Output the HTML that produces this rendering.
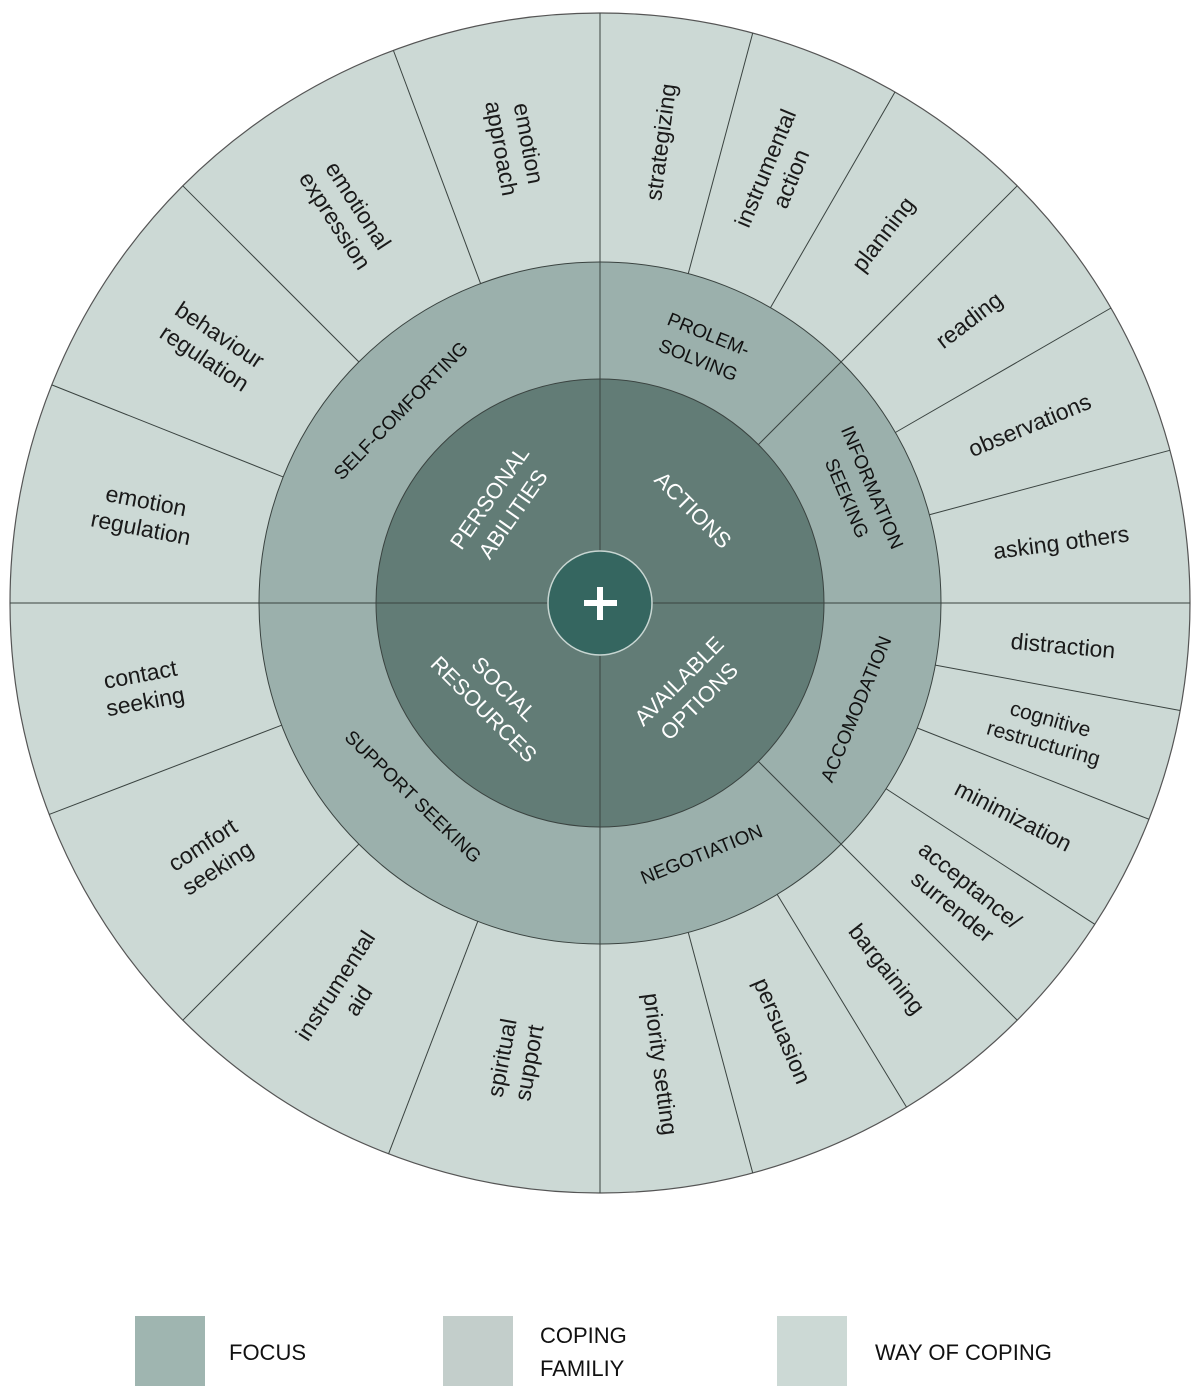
<!DOCTYPE html>
<html><head><meta charset="utf-8"><style>
body{margin:0;background:#fff;width:1200px;height:1397px;overflow:hidden}
svg{display:block}
.o{font-family:"Liberation Sans",sans-serif;font-size:23px;fill:#1a1a1a}
.m{font-family:"Liberation Sans",sans-serif;font-size:19px;fill:#111}
.i{font-family:"Liberation Sans",sans-serif;font-size:22px;fill:#fff}
.l{font-family:"Liberation Sans",sans-serif;font-size:22px;fill:#111}
</style></head><body>
<svg width="1200" height="1397" viewBox="0 0 1200 1397" xmlns="http://www.w3.org/2000/svg">
<circle cx="600" cy="603" r="590" fill="#ccd9d5" stroke="#555" stroke-width="1.2"/>
<g transform="translate(600,603)" stroke="#3a4340" stroke-width="1">
<line x1="0" y1="-341" x2="0" y2="-590" transform="rotate(15)"/>
<line x1="0" y1="-341" x2="0" y2="-590" transform="rotate(30)"/>
<line x1="0" y1="-341" x2="0" y2="-590" transform="rotate(60)"/>
<line x1="0" y1="-341" x2="0" y2="-590" transform="rotate(75)"/>
<line x1="0" y1="-341" x2="0" y2="-590" transform="rotate(100.5)"/>
<line x1="0" y1="-341" x2="0" y2="-590" transform="rotate(111.5)"/>
<line x1="0" y1="-341" x2="0" y2="-590" transform="rotate(123)"/>
<line x1="0" y1="-341" x2="0" y2="-590" transform="rotate(148.7)"/>
<line x1="0" y1="-341" x2="0" y2="-590" transform="rotate(165)"/>
<line x1="0" y1="-341" x2="0" y2="-590" transform="rotate(201)"/>
<line x1="0" y1="-341" x2="0" y2="-590" transform="rotate(225)"/>
<line x1="0" y1="-341" x2="0" y2="-590" transform="rotate(249)"/>
<line x1="0" y1="-341" x2="0" y2="-590" transform="rotate(291.7)"/>
<line x1="0" y1="-341" x2="0" y2="-590" transform="rotate(315)"/>
<line x1="0" y1="-341" x2="0" y2="-590" transform="rotate(339.5)"/>
<circle r="341" fill="#9bb0ac" stroke="#3a4340"/>
<line x1="0" y1="-224" x2="0" y2="-590" transform="rotate(45)"/>
<line x1="0" y1="-224" x2="0" y2="-590" transform="rotate(135)"/>
<circle r="224" fill="#627c76" stroke="#3a4340"/>
<line x1="0" y1="-590" x2="0" y2="590"/>
<line x1="-590" y1="0" x2="590" y2="0"/>
<circle r="52" fill="#356660" stroke="#c8d6d2" stroke-width="1.5"/>
</g>
<rect x="584" y="600" width="33" height="6" fill="#fff"/>
<rect x="597" y="587" width="6" height="33" fill="#fff"/>

<g text-anchor="middle" dominant-baseline="central">
<g class="o">
<g transform="translate(600,603) rotate(7.5) translate(0,-465) rotate(-90)"><text>strategizing</text></g>
<g transform="translate(600,603) rotate(22.5) translate(0,-465) rotate(-90)"><text><tspan x="0" dy="-0.6em">instrumental</tspan><tspan x="0" dy="1.2em">action</tspan></text></g>
<g transform="translate(600,603) rotate(37.5) translate(0,-465) rotate(-90)"><text>planning</text></g>
<g transform="translate(600,603) rotate(52.5) translate(0,-465) rotate(-90)"><text>reading</text></g>
<g transform="translate(600,603) rotate(67.5) translate(0,-465) rotate(-90)"><text>observations</text></g>
<g transform="translate(600,603) rotate(82.5) translate(0,-465) rotate(-90)"><text>asking others</text></g>
<g transform="translate(600,603) rotate(95.25) translate(0,-465) rotate(-90)"><text>distraction</text></g>
<g transform="translate(600,603) rotate(106) translate(0,-465) rotate(-90)"><text style="font-size:21px"><tspan x="0" dy="-0.6em">cognitive</tspan><tspan x="0" dy="1.2em">restructuring</tspan></text></g>
<g transform="translate(600,603) rotate(117.25) translate(0,-465) rotate(-90)"><text>minimization</text></g>
<g transform="translate(600,603) rotate(129) translate(0,-465) rotate(-90)"><text><tspan x="0" dy="-0.6em">acceptance/</tspan><tspan x="0" dy="1.2em">surrender</tspan></text></g>
<g transform="translate(600,603) rotate(141.9) translate(0,-465) rotate(-90)"><text>bargaining</text></g>
<g transform="translate(600,603) rotate(156.9) translate(0,-465) rotate(-90)"><text>persuasion</text></g>
<g transform="translate(600,603) rotate(172.5) translate(0,-465) rotate(-90)"><text>priority setting</text></g>
<g transform="translate(600,603) rotate(190.5) translate(0,-465) rotate(90)"><text><tspan x="0" dy="-0.6em">spiritual</tspan><tspan x="0" dy="1.2em">support</tspan></text></g>
<g transform="translate(600,603) rotate(213) translate(0,-465) rotate(90)"><text><tspan x="0" dy="-0.6em">instrumental</tspan><tspan x="0" dy="1.2em">aid</tspan></text></g>
<g transform="translate(600,603) rotate(237) translate(0,-465) rotate(90)"><text><tspan x="0" dy="-0.6em">comfort</tspan><tspan x="0" dy="1.2em">seeking</tspan></text></g>
<g transform="translate(600,603) rotate(259.5) translate(0,-465) rotate(90)"><text><tspan x="0" dy="-0.6em">contact</tspan><tspan x="0" dy="1.2em">seeking</tspan></text></g>
<g transform="translate(600,603) rotate(281) translate(0,-465) rotate(90)"><text><tspan x="0" dy="-0.6em">emotion</tspan><tspan x="0" dy="1.2em">regulation</tspan></text></g>
<g transform="translate(600,603) rotate(303.5) translate(0,-465) rotate(90)"><text><tspan x="0" dy="-0.6em">behaviour</tspan><tspan x="0" dy="1.2em">regulation</tspan></text></g>
<g transform="translate(600,603) rotate(327) translate(0,-465) rotate(90)"><text><tspan x="0" dy="-0.6em">emotional</tspan><tspan x="0" dy="1.2em">expression</tspan></text></g>
<g transform="translate(600,603) rotate(349.5) translate(0,-465) rotate(90)"><text><tspan x="0" dy="-0.6em">emotion</tspan><tspan x="0" dy="1.2em">approach</tspan></text></g>
</g>
<g class="m">
<g transform="translate(600,603) rotate(-46) translate(0,-276)"><text>SELF-COMFORTING</text></g>
<g transform="translate(600,603) rotate(22) translate(0,-276)"><text><tspan x="0" dy="-0.7em">PROLEM-</tspan><tspan x="0" dy="1.45em">SOLVING</tspan></text></g>
<g transform="translate(600,603) rotate(67) translate(0,-282)"><text><tspan x="0" dy="-0.7em">INFORMATION</tspan><tspan x="0" dy="1.45em">SEEKING</tspan></text></g>
<g transform="translate(600,603) rotate(112.5) translate(0,-278) rotate(180)"><text>ACCOMODATION</text></g>
<g transform="translate(600,603) rotate(158) translate(0,-272) rotate(180)"><text>NEGOTIATION</text></g>
<g transform="translate(600,603) rotate(224) translate(0,-270) rotate(180)"><text>SUPPORT SEEKING</text></g>
</g>
<g class="i">
<g transform="translate(500,505) rotate(-55)"><text><tspan x="0" dy="-0.6em">PERSONAL</tspan><tspan x="0" dy="1.3em">ABILITIES</tspan></text></g>
<g transform="translate(693,510) rotate(45)"><text>ACTIONS</text></g>
<g transform="translate(688,690) rotate(-45)"><text><tspan x="0" dy="-0.6em">AVAILABLE</tspan><tspan x="0" dy="1.3em">OPTIONS</tspan></text></g>
<g transform="translate(495,698) rotate(45)"><text><tspan x="0" dy="-0.6em">SOCIAL</tspan><tspan x="0" dy="1.3em">RESOURCES</tspan></text></g>
</g>
</g>
<rect x="135" y="1316" width="70" height="70" fill="#9fb5b0"/>
<rect x="443" y="1316" width="70" height="70" fill="#c3cecb"/>
<rect x="777" y="1316" width="70" height="70" fill="#ccd9d5"/>
<text class="l" x="229" y="1360">FOCUS</text>
<text class="l" x="540" y="1343">COPING</text>
<text class="l" x="540" y="1376">FAMILIY</text>
<text class="l" x="875" y="1360">WAY OF COPING</text>
</svg>
</body></html>
